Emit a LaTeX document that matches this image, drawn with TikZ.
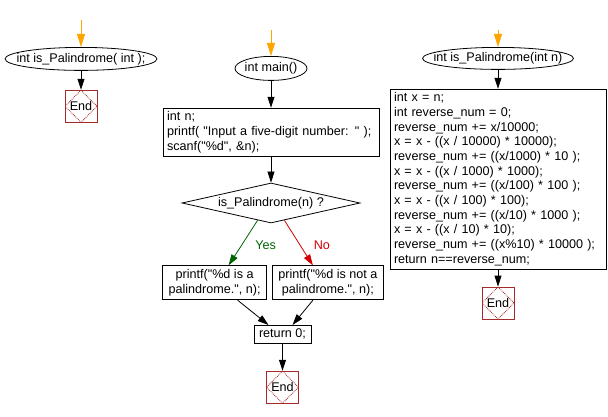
\documentclass[tikz,border=0pt]{standalone}
\usepackage{fontspec}
\setmainfont{Liberation Sans}[Ligatures=TeXOff]
\usepackage{tikz}
\usetikzlibrary{shapes.geometric, arrows.meta, positioning, calc}
\definecolor{endred}{RGB}{165, 42, 42}
\definecolor{startorange}{RGB}{255, 165, 0}
\definecolor{yesgreen}{RGB}{0, 100, 0}
\definecolor{nored}{RGB}{210, 0, 0}

\begin{document}
\begin{tikzpicture}[
    line width=0.8pt,
    every node/.style={font=\fontsize{12.6}{14.7}\selectfont},
    oval/.style={ellipse, draw, inner xsep=-14pt, inner ysep=0pt, minimum height=23pt},
    codebox/.style={rectangle, draw, inner xsep=4pt, inner ysep=3pt},
    endbox/.style={rectangle, draw=endred, minimum size=32pt, inner sep=0pt,
        path picture={\draw[endred, densely dotted] (path picture bounding box.north) -- (path picture bounding box.east)
            -- (path picture bounding box.south) -- (path picture bounding box.west) -- cycle;}},
    decision/.style={diamond, draw, aspect=4.45, inner sep=0pt, minimum width=178pt, minimum height=40pt},
    arrow/.style={-{Triangle[length=11pt, width=7pt]}},
    entry/.style={color=startorange, -{Triangle[length=13pt, width=8pt]}}
]
\useasboundingbox (0,0) rectangle (608pt,-417pt);

% Prototype
\coordinate (declin) at (81pt,-20pt);
\node[oval, minimum width=152pt, below=27pt of declin] (decl) {int is\_Palindrome( int );};
\node[endbox, below=19pt of decl] (declend) {End};

% main()
\coordinate (mainin) at (271pt,-30pt);
\node[oval, minimum width=72pt, minimum height=24pt, below=26pt of mainin] (main) {int main()};
\node[codebox, text width=208pt, minimum height=48pt, align=left, below=27pt of main] (readnum) {int n;\\printf( "Input a five-digit number: " );\\scanf("\%d", \&n);};
\node[decision, below=26pt of readnum] (check) {is\_Palindrome(n) ?};

% Outcomes
\node[codebox, align=center, minimum width=104pt, minimum height=34pt, anchor=north east] (yesbox) at ([shift={(-4pt,-42pt)}]check.south) {printf("\%d is a\\palindrome.", n);};
\node[codebox, align=center, minimum width=111pt, minimum height=34pt, anchor=north west] (nobox) at ([shift={(1pt,-42pt)}]check.south) {printf("\%d is not a\\palindrome.", n);};
\node[codebox, minimum width=57pt, minimum height=18pt, inner ysep=0pt] (ret) at ([shift={(11.5pt,-111pt)}]check.south) {return 0;};
\node[endbox, below=27pt of ret] (mainend) {End};

% is_Palindrome()
\coordinate (defin) at (498pt,-30pt);
\node[oval, minimum width=151pt, minimum height=22pt, below=17pt of defin] (def) {int is\_Palindrome(int n)};
\node[codebox, text width=208pt, minimum height=180pt, align=left, below=19pt of def] (body) {int x = n;\\
int reverse\_num = 0;\\
reverse\_num += x/10000;\\
x = x - ((x / 10000) * 10000);\\
reverse\_num += ((x/1000) * 10 );\\
x = x - ((x / 1000) * 1000);\\
reverse\_num += ((x/100) * 100 );\\
x = x - ((x / 100) * 100);\\
reverse\_num += ((x/10) * 1000 );\\
x = x - ((x / 10) * 10);\\
reverse\_num += ((x\%10) * 10000 );\\
return n==reverse\_num;};
\node[endbox, below=17pt of body] (defend) {End};

% Arrows
\draw[entry] (declin) -- (decl);
\draw[entry] (mainin) -- (main);
\draw[entry] (defin) -- (def);
\draw[arrow] (decl) -- (declend);
\draw[arrow] (main) -- (readnum);
\draw[arrow] (readnum) -- (check);
\draw[arrow, yesgreen] ($(check.south)!0.15!(check.west)$) -- node[pos=0.55, right=10pt] {Yes} ([xshift=14pt]yesbox.north);
\draw[arrow, nored] ($(check.south)!0.15!(check.east)$) -- node[pos=0.55, right=10pt] {No} ([xshift=-15pt]nobox.north);
\draw[arrow] ([xshift=23pt]yesbox.south) -- ([xshift=-14pt]ret.north);
\draw[arrow] ([xshift=-15pt]nobox.south) -- ([xshift=10pt]ret.north);
\draw[arrow] (ret) -- (mainend);
\draw[arrow] (def) -- (body);
\draw[arrow] (body) -- (defend);

\end{tikzpicture}
\end{document}
